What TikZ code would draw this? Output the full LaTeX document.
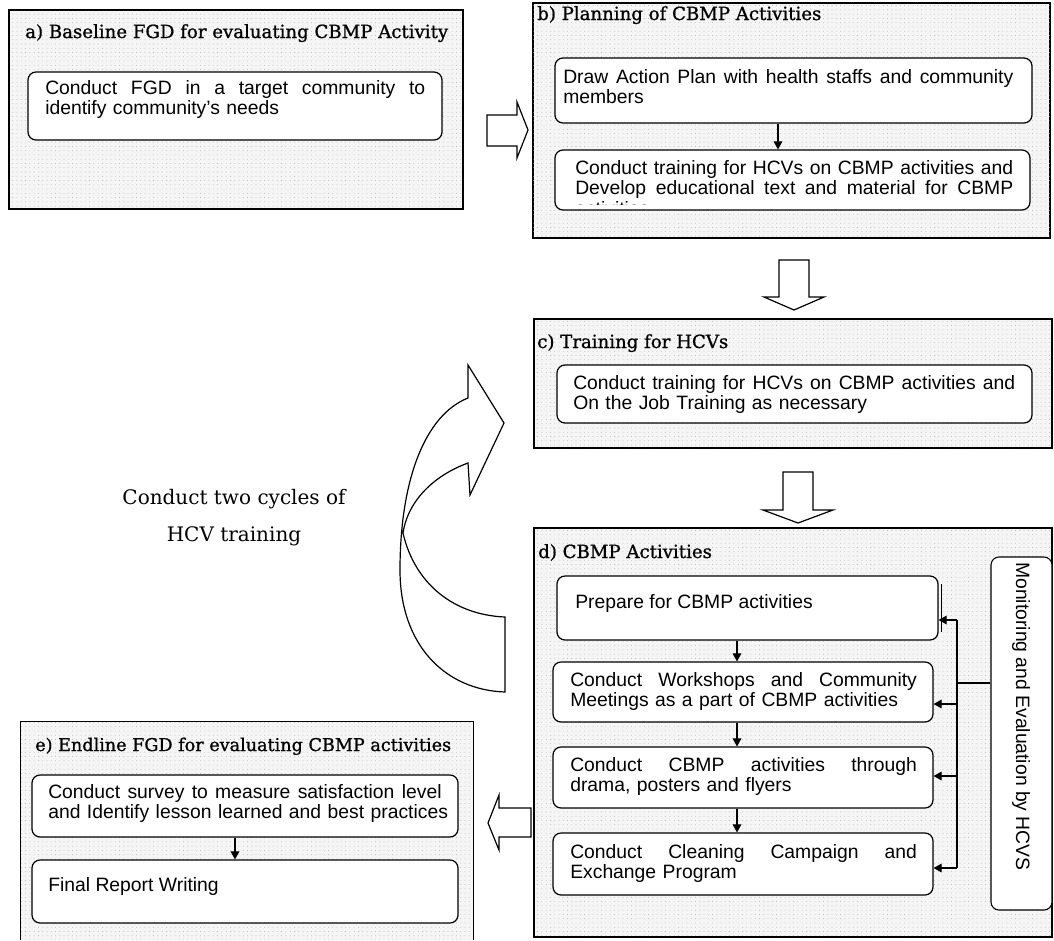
\documentclass[tikz,border=0pt]{standalone}
\usepackage{fontspec}
\setmainfont{Liberation Sans}
\newfontfamily\ttlfont[FakeBold=0.9]{DejaVu Serif}
\newfontfamily\cycfont{DejaVu Serif}
\usetikzlibrary{fit,arrows.meta,patterns.meta}
\tikzset{
  obox/.style={draw=black, line width=1.1pt, fill=black!4, postaction={pattern={Dots[radius=0.3pt,distance=3.2pt]}, pattern color=black!35}, inner sep=0pt},
  obxnd/.style={fill=black!4, postaction={pattern={Dots[radius=0.3pt,distance=3.2pt]}, pattern color=black!35}, inner sep=0pt},
  ibox/.style={draw=black, line width=0.9pt, rounded corners=6pt, fill=white, inner sep=0pt},
  mbox/.style={draw=black, line width=0.8pt, rounded corners=6pt, fill=white, inner sep=0pt},
  txt/.style={anchor=base west, inner sep=0pt, font=\fontsize{14.5}{15.5}\selectfont},
  ttl/.style={anchor=base west, inner sep=0pt, font=\ttlfont\fontsize{13.6}{15}\selectfont},
  sarrow/.style={-{Triangle[length=6pt,width=6.5pt]}, line width=0.8pt},
  blk/.style={draw=black, line width=0.9pt, fill=white, line join=miter},
}
\newcommand{\jl}[2]{\leavevmode\hbox to #1{\spaceskip=0.278em plus 1fil\relax #2}}
\newcommand{\nl}[1]{\leavevmode\hbox to 0pt{#1\hss}}
\begin{document}
\begin{tikzpicture}[x=0.75pt,y=-0.75pt]
\useasboundingbox (0,0) rectangle (1054,940);
% outer boxes
\node[obox, fit={(9,10)(463,209)}] (A) {};
\node[obox, fit={(533,3)(1050,238)}] (B) {};
\node[obox, fit={(534,319)(1052,448)}] (C) {};
\node[obox, fit={(534,528)(1052,937)}] (D) {};
\node[obxnd, fit={(21,722)(473,940)}] (E) {};
\draw[line width=1.1pt] (E.south west) -- (E.north west) -- (E.north east) -- (E.south east);
% titles
\node[ttl] (tA) at (25,38) {a) Baseline FGD for evaluating CBMP Activity};
\node[ttl] (tB) at (537,20) {b) Planning of CBMP Activities};
\node[ttl] (tC) at (537,348) {c) Training for HCVs};
\node[ttl] (tD) at (538,558) {d) CBMP Activities};
\node[ttl, font=\ttlfont\fontsize{13.2}{15}\selectfont] (tE) at (35,751) {e) Endline FGD for evaluating CBMP activities};
% inner boxes
\node[ibox, fit={(28,72)(442,140)}] (a1) {};
\node[ibox, fit={(555,58)(1032,123)}] (b1) {};
\node[ibox, fit={(555,150)(1030,210)}] (b2) {};
\node[ibox, fit={(557,365)(1032,423)}] (c1) {};
\node[ibox, fit={(557,576)(938,640)}] (d1) {};
\draw[line width=0.6pt] (941,584) -- (941,632);
\node[ibox, fit={(553,662)(933,722)}] (d2) {};
\node[ibox, fit={(553,747)(933,808)}] (d3) {};
\node[ibox, fit={(553,833)(933,895)}] (d4) {};
\node[ibox, fit={(32,775)(458,837)}] (e1) {};
\node[ibox, fit={(32,860)(458,923)}] (e2) {};
\node[mbox, fit={(991,557)(1052,910)}] (mon) {};
% texts
\node[txt, text width=285pt] (ta1) at (45,94) {\jl{285pt}{Conduct FGD in a target community to}\\\nl{identify community's needs}};
\node[txt, text width=337.5pt] (tb1) at (563,83) {\jl{337.5pt}{Draw Action Plan with health staffs and community}\\\nl{members}};
\begin{scope}
\clip (555,150) rectangle (1030,204);
\node[txt, text width=328.5pt] (tb2) at (575,174) {\jl{328.5pt}{Conduct training for HCVs on CBMP activities and}\\\jl{328.5pt}{Develop educational text and material for CBMP}\\\nl{activities}};
\end{scope}
\node[txt, text width=331.5pt] (tc1) at (573,389) {\jl{331.5pt}{Conduct training for HCVs on CBMP activities and}\\\nl{On the Job Training as necessary}};
\node[txt] (td1) at (575,608) {Prepare for CBMP activities};
\node[txt, text width=260pt] (td2) at (570,686) {\jl{260pt}{Conduct Workshops and Community}\\\nl{Meetings as a part of CBMP activities}};
\node[txt, text width=260pt] (td3) at (570,771) {\jl{260pt}{Conduct CBMP activities through}\\\nl{drama, posters and flyers}};
\node[txt, text width=260pt] (td4) at (570,858) {\jl{260pt}{Conduct Cleaning Campaign and}\\\nl{Exchange Program}};
\node[txt, text width=295pt] (te1) at (48,798) {\jl{295pt}{Conduct survey to measure satisfaction level}\\\nl{and Identify lesson learned and best practices}};
\node[txt] (te2) at (48,891) {Final Report Writing};
\node[anchor=west, inner sep=0pt, rotate=-90, font=\fontsize{14.5}{15.5}\selectfont] (tmon) at (1021,562) {Monitoring and Evaluation by HCVS};
\node[align=center, inner sep=0pt, font=\cycfont\fontsize{15}{27.75}\selectfont] (cyc) at (234,518) {Conduct two cycles of\\HCV training};
% small arrows
\coordinate (xb) at (778,0);
\coordinate (xd) at (737,0);
\coordinate (xe) at (235,0);
\draw[sarrow] (b1.south -| xb) -- (b2.north -| xb);
\draw[sarrow] (d1.south -| xd) -- (d2.north -| xd);
\draw[sarrow] (d2.south -| xd) -- (d3.north -| xd);
\draw[sarrow] (d3.south -| xd) -- (d4.north -| xd);
\draw[sarrow] (e1.south -| xe) -- (e2.north -| xe);
% monitoring connectors
\coordinate (bus) at (957,683);
\coordinate (m1) at (957,620);
\coordinate (m2) at (957,704);
\coordinate (m3) at (957,776);
\coordinate (m4) at (957,868);
\draw[line width=0.8pt] (mon.west |- bus) -- (bus);
\draw[line width=0.8pt] (m1) -- (m4);
\draw[sarrow] (m1) -- (m1 -| d1.east);
\draw[sarrow] (m2) -- (m2 -| d2.east);
\draw[sarrow] (m3) -- (m3 -| d3.east);
\draw[sarrow] (m4) -- (m4 -| d4.east);
% block arrows
\draw[blk] (487,115) -- (517,115) -- (517,102) -- (528,130) -- (517,158) -- (517,146) -- (487,146) -- cycle;
\draw[blk] (779,260) -- (809,260) -- (809,297) -- (824,297) -- (794,310) -- (764,297) -- (779,297) -- cycle;
\draw[blk] (783,472) -- (813,472) -- (813,510) -- (833,510) -- (798,523) -- (763,510) -- (783,510) -- cycle;
\draw[blk] (531,808) -- (499,808) -- (499,795) -- (488,823) -- (499,850) -- (499,837) -- (531,837) -- cycle;
% curved arrow
\draw[blk] (505,692) .. controls (445,690) and (400,645) .. (400,570)
  .. controls (400,480) and (425,415) .. (468,398) -- (468,365) -- (504,423) -- (470,495) -- (468,463)
  .. controls (435,475) and (408,500) .. (403,533)
  .. controls (415,585) and (455,615) .. (505,617) -- cycle;
\end{tikzpicture}
\end{document}
